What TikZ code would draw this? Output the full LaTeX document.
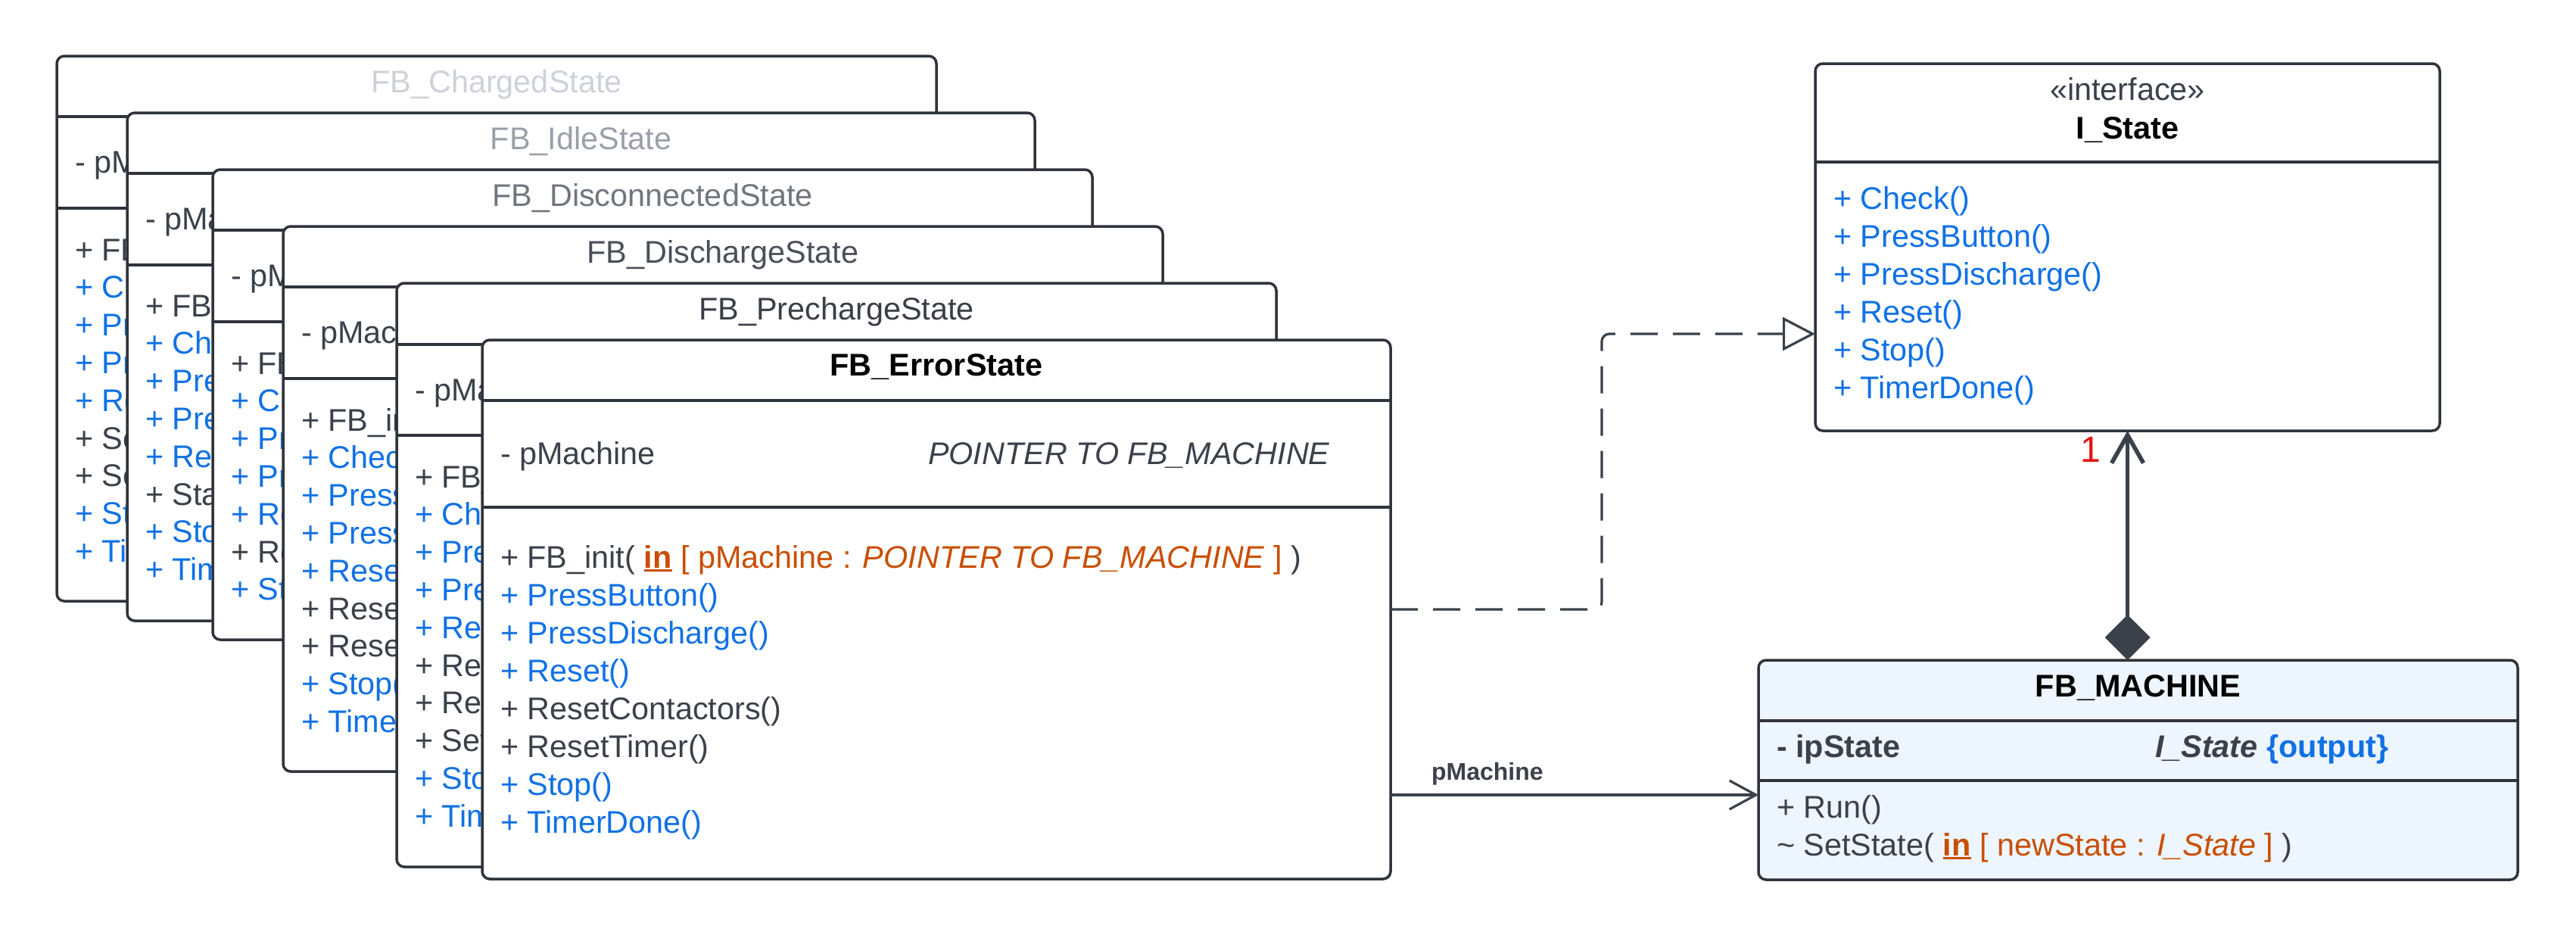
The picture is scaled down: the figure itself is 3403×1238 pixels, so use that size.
\documentclass[tikz,border=0pt]{standalone}
\usepackage{fontspec}
\setmainfont{Liberation Sans}
\usetikzlibrary{arrows.meta}
\definecolor{ink}{HTML}{3A414A}
\definecolor{edge}{HTML}{2F343B}
\definecolor{umlblue}{HTML}{1071E5}
\definecolor{umlorange}{HTML}{C94E00}
\definecolor{umlred}{HTML}{E81313}
\definecolor{machfill}{HTML}{EDF5FF}
\definecolor{tcharged}{HTML}{CDD2D9}
\definecolor{tidle}{HTML}{9AA0A8}
\definecolor{tdisc}{HTML}{6F767E}
\definecolor{tdischarge}{HTML}{4A5058}
\definecolor{tpre}{HTML}{3A3F46}
\newcommand\ulbold[1]{\setbox0\hbox{\bfseries #1}\rlap{\rule[-2.5pt]{\wd0}{1.6pt}}\box0\relax}
\newcommand\fbinit{+ FB\_init( {\color{umlorange}\ulbold{in} [ pMachine : \textit{POINTER TO FB\_MACHINE} ]} )}
\newcommand\setstatetxt{\textasciitilde{} SetState( {\color{umlorange}\ulbold{in} [ newState : \textit{I\_State} ]} )}
\begin{document}
\begin{tikzpicture}[x=0.5pt,y=-0.5pt,
  every node/.style={inner sep=0pt,outer sep=0pt},
  txt/.style={font=\fontsize{20.7}{25}\selectfont, text=ink},
  btxt/.style={font=\fontsize{20.7}{25}\selectfont\bfseries, text=ink},
  frame/.style={draw=edge, line width=1.75pt, rounded corners=5pt, fill=white, anchor=north west},
  sep/.style={draw=edge, line width=2pt},
  title/.style={txt, anchor=base},
  btitle/.style={btxt, text=black, anchor=base},
  member/.style={txt, anchor=base west},
  bmember/.style={btxt, anchor=base west},
  conn/.style={draw=ink, line width=1.6pt},
  realize/.style={conn, dash pattern=on 18pt off 10pt, rounded corners=5pt, -{Triangle[open,length=21.5pt,width=22pt]}},
  assoc/.style={conn, -{Straight Barb[length=17.5pt,width=19pt]}},
  compo/.style={conn, line width=2.8pt, {Diamond[length=30pt,width=30pt]}-{Straight Barb[length=18.5pt,width=21pt]}}
]
\fill[white] (0,0) rectangle (3403,1238);
\useasboundingbox (0,0) rectangle (3403,1238);

% FB_ChargedState
\node[frame, minimum width=581pt, minimum height=360pt] (ch) at (75,74) {};
\draw[sep] (ch.west |- 0,154) -- (ch.east |- 0,154);
\draw[sep] (ch.west |- 0,275) -- (ch.east |- 0,275);
\node[title, text=tcharged] (cht) at (656,122) {FB\_ChargedState};
\node[member] (cha) at (99,228) {- pMa};
\foreach \t/\c [count=\i from 0] in {{+ FB}/ink, {+ Ch}/umlblue, {+ Pre}/umlblue, {+ Pre}/umlblue, {+ Re}/umlblue, {+ Se}/ink, {+ Se}/ink, {+ Sto}/umlblue, {+ Tim}/umlblue}
  \node[member, text=\c] (chm\i) at (99,344+49.8*\i) {\t};

% FB_IdleState
\node[frame, minimum width=599.5pt, minimum height=335.5pt] (id) at (168,149) {};
\draw[sep] (id.west |- 0,229) -- (id.east |- 0,229);
\draw[sep] (id.west |- 0,350) -- (id.east |- 0,350);
\node[title, text=tidle] (idt) at (767.5,197) {FB\_IdleState};
\node[member] (ida) at (192,303.5) {- pMac};
\foreach \t/\c [count=\i from 0] in {{+ FB\_}/ink, {+ Che}/umlblue, {+ Pre}/umlblue, {+ Pre}/umlblue, {+ Res}/umlblue, {+ Sta}/ink, {+ Sto}/umlblue, {+ Tim}/umlblue}
  \node[member, text=\c] (idm\i) at (192,418+49.8*\i) {\t};

% FB_DisconnectedState
\node[frame, minimum width=581pt, minimum height=310.5pt] (dc) at (281,224) {};
\draw[sep] (dc.west |- 0,304) -- (dc.east |- 0,304);
\draw[sep] (dc.west |- 0,425) -- (dc.east |- 0,425);
\node[title, text=tdisc] (dct) at (862,272) {FB\_DisconnectedState};
\node[member] (dca) at (305,378.5) {- pMa};
\foreach \t/\c [count=\i from 0] in {{+ FB}/ink, {+ Ch}/umlblue, {+ Pre}/umlblue, {+ Pre}/umlblue, {+ Re}/umlblue, {+ Re}/ink, {+ Sto}/umlblue}
  \node[member, text=\c] (dcm\i) at (305,494+49.8*\i) {\t};

% FB_DischargeState
\node[frame, minimum width=581pt, minimum height=360pt] (ds) at (374,299) {};
\draw[sep] (ds.west |- 0,379) -- (ds.east |- 0,379);
\draw[sep] (ds.west |- 0,500) -- (ds.east |- 0,500);
\node[title, text=tdischarge] (dst) at (955,347) {FB\_DischargeState};
\node[member] (dsa) at (398,453.5) {- pMach};
\foreach \t/\c [count=\i from 0] in {{+ FB\_in}/ink, {+ Check}/umlblue, {+ Press}/umlblue, {+ Press}/umlblue, {+ Reset}/umlblue, {+ Reset}/ink, {+ Reset}/ink, {+ Stop()}/umlblue, {+ Timer}/umlblue}
  \node[member, text=\c] (dsm\i) at (398,569+49.8*\i) {\t};

% FB_PrechargeState
\node[frame, minimum width=581pt, minimum height=385.5pt] (pc) at (524,374) {};
\draw[sep] (pc.west |- 0,455) -- (pc.east |- 0,455);
\draw[sep] (pc.west |- 0,575) -- (pc.east |- 0,575);
\node[title, text=tpre] (pct) at (1105,422.5) {FB\_PrechargeState};
\node[member] (pca) at (548,529) {- pMac};
\foreach \t/\c [count=\i from 0] in {{+ FB\_}/ink, {+ Che}/umlblue, {+ Pre}/umlblue, {+ Pre}/umlblue, {+ Res}/umlblue, {+ Res}/ink, {+ Res}/ink, {+ Set}/ink, {+ Sto}/umlblue, {+ Tim}/umlblue}
  \node[member, text=\c] (pcm\i) at (548,644+49.8*\i) {\t};

% FB_ErrorState
\node[frame, minimum width=600pt, minimum height=356pt] (err) at (637,449) {};
\draw[sep] (err.west |- 0,529) -- (err.east |- 0,529);
\draw[sep] (err.west |- 0,670) -- (err.east |- 0,670);
\node[btitle] (errt) at (1237,496) {FB\_ErrorState};
\node[member] (erra) at (661,613.5) {- pMachine};
\node[member] (errty) at (1226,613.5) {\textit{POINTER TO FB\_MACHINE}};
\foreach \t/\c [count=\i from 0] in {{\fbinit}/ink, {+ PressButton()}/umlblue, {+ PressDischarge()}/umlblue, {+ Reset()}/umlblue, {+ ResetContactors()}/ink, {+ ResetTimer()}/ink, {+ Stop()}/umlblue, {+ TimerDone()}/umlblue}
  \node[member, text=\c] (errm\i) at (661,750+50*\i) {\t};

% I_State
\node[frame, minimum width=412.5pt, minimum height=242.5pt] (ist) at (2398,84) {};
\draw[sep] (ist.west |- 0,214) -- (ist.east |- 0,214);
\node[title] (istst) at (2810.5,132) {«interface»};
\node[btitle] (istt) at (2810.5,183) {I\_State};
\foreach \t [count=\i from 0] in {{+ Check()}, {+ PressButton()}, {+ PressDischarge()}, {+ Reset()}, {+ Stop()}, {+ TimerDone()}}
  \node[member, text=umlblue] (istm\i) at (2422,276+50*\i) {\t};

% FB_MACHINE
\node[frame, fill=machfill, minimum width=501.5pt, minimum height=145pt] (mach) at (2323,872) {};
\draw[sep] (mach.west |- 0,952) -- (mach.east |- 0,952);
\draw[sep] (mach.west |- 0,1031) -- (mach.east |- 0,1031);
\node[btitle] (macht) at (2824.5,920) {FB\_MACHINE};
\node[bmember] (macha) at (2347,1000) {- ipState};
\node[bmember] (machty) at (2847,1000) {\textit{I\_State} {\color{umlblue}\{output\}}};
\node[member] (machm0) at (2347,1080) {+ Run()};
\node[member] (machm1) at (2347,1130) {\setstatetxt};

% connectors
\draw[realize] (err.east |- 0,805) -| ([xshift=-141pt]ist.west |- 0,441) -- (ist.west |- 0,441);
\draw[assoc] (err.east |- 0,1050) -- (mach.west |- 0,1050)
  node[pos=0.263, anchor=base, yshift=10pt, font=\fontsize{16}{18}\selectfont\bfseries, text=ink] (assoclbl) {pMachine};
\draw[compo] (ist.south |- mach.north) -- (ist.south)
  node[pos=0.917, xshift=-24.5pt, font=\fontsize{24}{24}\selectfont, text=umlred] (mult) {1};
\end{tikzpicture}
\end{document}
